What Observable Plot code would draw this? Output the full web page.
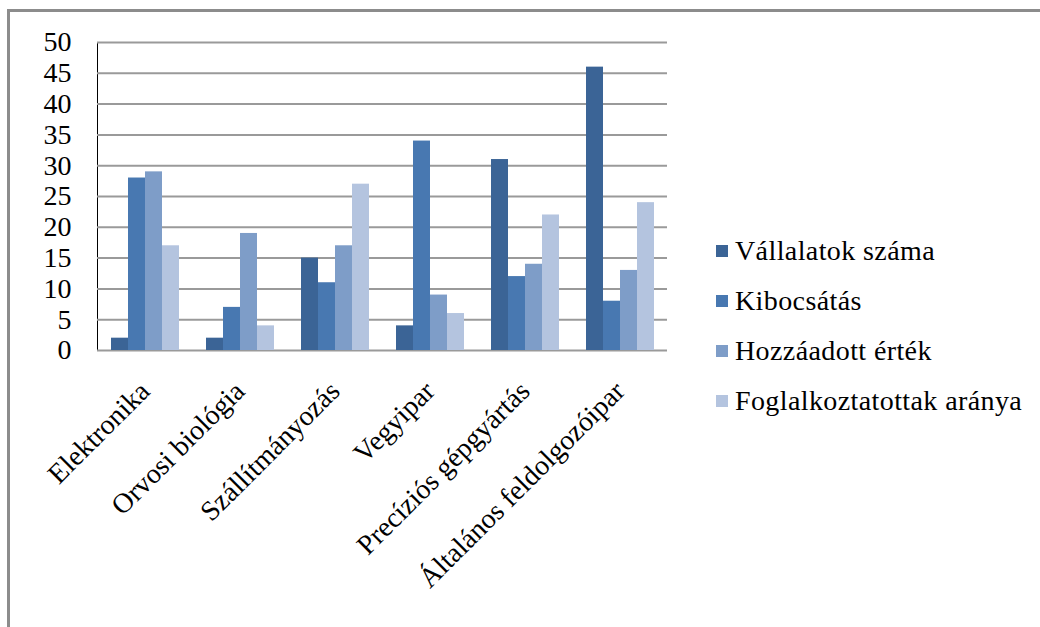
<!DOCTYPE html>
<html>
<head>
<meta charset="utf-8">
<script src="https://cdn.jsdelivr.net/npm/d3@7"></script>
<script src="https://cdn.jsdelivr.net/npm/@observablehq/plot@0.6"></script>
<style>
  body { margin: 0; background: #fff; width: 1040px; height: 627px; overflow: hidden; position: relative; }
  #frame { position: absolute; left: 7px; top: 9px; width: 1200px; height: 800px;
           border-top: 3px solid #8c8c8c; border-left: 3px solid #8c8c8c; box-sizing: border-box; }
  #chart { position: absolute; left: 0; top: 0; }
  #legend { position: absolute; left: 716px; top: 226px; font-family: "Liberation Serif", serif;
            font-size: 28px; color: #000; letter-spacing: 0.4px; }
  .row { display: flex; align-items: center; height: 50px; white-space: nowrap; }
  .sw { width: 12px; height: 12px; margin-right: 7px; }
</style>
</head>
<body>
<div id="frame"></div>
<div id="chart"></div>
<div id="legend"></div>
<script>
const categories = ["Elektronika", "Orvosi biológia", "Szállítmányozás", "Vegyipar", "Precíziós gépgyártás", "Általános feldolgozóipar"];
const seriesNames = ["Vállalatok száma", "Kibocsátás", "Hozzáadott érték", "Foglalkoztatottak aránya"];
const vallalatokSzama = [2, 2, 15, 4, 31, 46];
const kibocsatas = [28, 7, 11, 34, 12, 8];
const hozzaadottErtek = [29, 19, 17, 9, 14, 13];
const foglalkoztatottakAranya = [17, 4, 27, 6, 22, 24];
const yTicks = [0, 5, 10, 15, 20, 25, 30, 35, 40, 45, 50];
const colors = ["#3b6496", "#4878b1", "#7e9dc8", "#b4c4df"];

const seriesValues = [vallalatokSzama, kibocsatas, hozzaadottErtek, foglalkoztatottakAranya];
const data = [];
categories.forEach((c, i) => {
  seriesNames.forEach((s, j) => data.push({category: c, series: s, value: seriesValues[j][i]}));
});

const chart = Plot.plot({
  width: 700,
  height: 627,
  marginTop: 42,
  marginBottom: 277,
  marginLeft: 96,
  marginRight: 32,
  style: {fontFamily: "'Liberation Serif', serif", fontSize: "28px", color: "#000", background: "transparent"},
  fx: {domain: categories, paddingInner: 0, paddingOuter: 0, label: null, tickRotate: -45, tickSize: 0, tickPadding: 36},
  x: {domain: seriesNames, paddingInner: 0, paddingOuter: 0.765, axis: null},
  y: {domain: [0, 50], ticks: yTicks, label: null, tickSize: 0, tickPadding: 26, line: true},
  color: {domain: seriesNames, range: colors},
  marks: [
    Plot.ruleY(yTicks, {stroke: "#9a9a9a", strokeWidth: 2}),
    Plot.barY(data, {fx: "category", x: "series", y: "value", fill: "series"})
  ]
});
d3.select(chart).selectAll('[aria-label^="y-axis"] line, [aria-label^="y-axis"] path')
  .attr("stroke", "#9a9a9a").attr("stroke-width", 2);
document.getElementById("chart").appendChild(chart);

const legend = d3.select("#legend");
seriesNames.forEach((s, j) => {
  const row = legend.append("div").attr("class", "row");
  row.append("div").attr("class", "sw").style("background", colors[j]);
  row.append("span").text(s);
});
</script>
</body>
</html>
